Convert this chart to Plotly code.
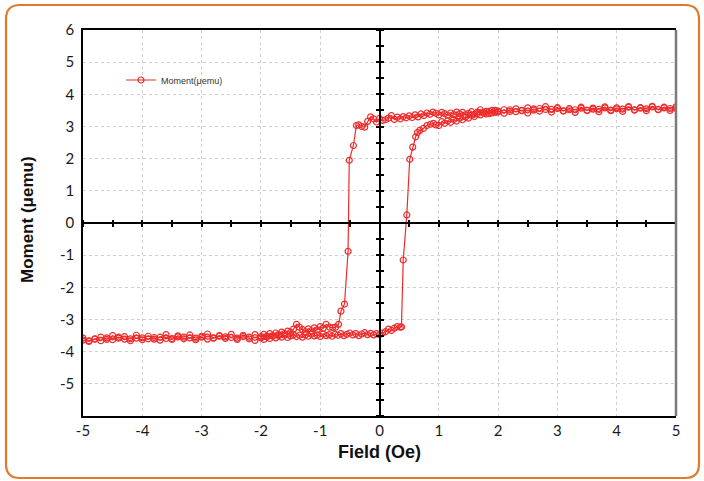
import plotly.graph_objects as go

# ---------------- data ----------------
field_down = [5.0, 4.9, 4.8, 4.7, 4.6, 4.5, 4.4, 4.3, 4.2, 4.1, 4.0, 3.9, 3.8, 3.7, 3.6, 3.5,
              3.4, 3.3, 3.2, 3.1, 3.0, 2.9, 2.8, 2.7, 2.6, 2.5, 2.4, 2.3, 2.2, 2.1, 2.0,
              1.95, 1.90, 1.85, 1.80, 1.75, 1.70, 1.65, 1.60, 1.55, 1.50, 1.45, 1.40, 1.35,
              1.30, 1.25, 1.20, 1.15, 1.10, 1.05, 1.00, 0.95, 0.90, 0.85, 0.80, 0.75, 0.70,
              0.65, 0.60, 0.55, 0.50, 0.45, 0.40, 0.35, 0.30, 0.25, 0.20, 0.15, 0.10, 0.05,
              0.00, -0.05, -0.10, -0.15, -0.20, -0.25, -0.30, -0.35, -0.39,
              -0.44, -0.51, -0.53, -0.59, -0.65, -0.69, -0.74, -0.79, -0.84, -0.90,
              -0.95, -1.00, -1.05, -1.10, -1.15, -1.20, -1.25, -1.30, -1.35, -1.40, -1.45,
              -1.50, -1.55, -1.60, -1.65, -1.70, -1.75, -1.80, -1.85, -1.90, -1.95,
              -2.0, -2.1, -2.2, -2.3, -2.4, -2.5, -2.6, -2.7, -2.8, -2.9, -3.0, -3.1, -3.2,
              -3.3, -3.4, -3.5, -3.6, -3.7, -3.8, -3.9, -4.0, -4.1, -4.2, -4.3, -4.4, -4.5,
              -4.6, -4.7, -4.8, -4.9, -5.0]
moment_down = [3.56, 3.50, 3.58, 3.53, 3.61, 3.49, 3.57, 3.52, 3.60, 3.47, 3.55, 3.51, 3.58, 3.46, 3.54, 3.50,
               3.57, 3.44, 3.52, 3.49, 3.56, 3.45, 3.53, 3.48, 3.55, 3.42, 3.50, 3.46, 3.52, 3.41, 3.48,
               3.44, 3.50, 3.40, 3.47, 3.42, 3.52, 3.45, 3.38, 3.46, 3.41, 3.36, 3.44, 3.39,
               3.45, 3.37, 3.42, 3.35, 3.40, 3.44, 3.36, 3.41, 3.45, 3.38, 3.42, 3.34, 3.39,
               3.30, 3.36, 3.28, 3.33, 3.27, 3.31, 3.24, 3.29, 3.22, 3.34, 3.26, 3.21, 3.19,
               3.25, 3.14, 3.24, 3.30, 3.16, 2.98, 3.00, 3.05, 3.03,
               2.41, 1.95, -0.88, -2.52, -2.74, -3.15, -3.24, -3.25, -3.24, -3.15,
               -3.27, -3.22, -3.32, -3.26, -3.35, -3.29, -3.38, -3.31, -3.24, -3.15, -3.30,
               -3.40, -3.36, -3.44, -3.39, -3.47, -3.42, -3.50, -3.44, -3.52, -3.46,
               -3.53, -3.47, -3.55, -3.49, -3.58, -3.46, -3.54, -3.50, -3.57, -3.45, -3.52, -3.58, -3.48,
               -3.55, -3.51, -3.59, -3.47, -3.55, -3.61, -3.52, -3.57, -3.49, -3.60, -3.53, -3.58, -3.50,
               -3.62, -3.55, -3.60, -3.66, -3.58]

field_up = [-5.0, -4.9, -4.8, -4.7, -4.6, -4.5, -4.4, -4.3, -4.2, -4.1, -4.0, -3.9, -3.8, -3.7, -3.6,
            -3.5, -3.4, -3.3, -3.2, -3.1, -3.0, -2.9, -2.8, -2.7, -2.6, -2.5, -2.4, -2.3, -2.2, -2.1, -2.0,
            -1.95, -1.90, -1.85, -1.80, -1.75, -1.70, -1.65, -1.60, -1.55, -1.50, -1.45, -1.40, -1.35,
            -1.30, -1.25, -1.20, -1.15, -1.10, -1.05, -1.00, -0.95, -0.90, -0.85, -0.80, -0.75, -0.70,
            -0.65, -0.60, -0.55, -0.50, -0.45, -0.40, -0.35, -0.30, -0.25, -0.20, -0.15, -0.10, -0.05,
            0.00, 0.05, 0.10, 0.15, 0.20, 0.25, 0.30, 0.35, 0.37,
            0.40, 0.46, 0.51, 0.56, 0.61, 0.64, 0.68, 0.74, 0.80, 0.86, 0.91, 0.95,
            1.00, 1.05, 1.10, 1.15, 1.20, 1.25, 1.30, 1.35, 1.40, 1.45, 1.50, 1.55, 1.60, 1.65,
            1.70, 1.75, 1.80, 1.85, 1.90, 1.95,
            2.0, 2.1, 2.2, 2.3, 2.4, 2.5, 2.6, 2.7, 2.8, 2.9, 3.0, 3.1, 3.2, 3.3, 3.4, 3.5,
            3.6, 3.7, 3.8, 3.9, 4.0, 4.1, 4.2, 4.3, 4.4, 4.5, 4.6, 4.7, 4.8, 4.9, 5.0]
moment_up = [-3.64, -3.68, -3.61, -3.66, -3.57, -3.63, -3.55, -3.61, -3.66, -3.58, -3.63, -3.60, -3.56, -3.64, -3.59,
             -3.62, -3.54, -3.60, -3.57, -3.63, -3.55, -3.61, -3.58, -3.52, -3.59, -3.56, -3.62, -3.53, -3.60, -3.65, -3.57,
             -3.62, -3.54, -3.59, -3.52, -3.57, -3.50, -3.55, -3.49, -3.56, -3.51, -3.47, -3.53, -3.49,
             -3.55, -3.48, -3.52, -3.46, -3.51, -3.48, -3.53, -3.45, -3.50, -3.47, -3.52, -3.46, -3.49,
             -3.44, -3.50, -3.46, -3.42, -3.48, -3.44, -3.50, -3.45, -3.41, -3.47, -3.43, -3.48, -3.44,
             -3.47, -3.42, -3.38, -3.30, -3.34, -3.27, -3.22, -3.24, -3.23,
             -1.15, 0.25, 1.98, 2.36, 2.68, 2.81, 2.88, 2.94, 3.03, 3.07, 3.10, 3.05,
             3.03, 3.15, 3.10, 3.18, 3.13, 3.22, 3.17, 3.26, 3.21, 3.30, 3.26, 3.35, 3.31, 3.40,
             3.36, 3.44, 3.39, 3.47, 3.42, 3.50,
             3.45, 3.52, 3.47, 3.55, 3.49, 3.58, 3.51, 3.56, 3.62, 3.53, 3.59, 3.48, 3.56, 3.52, 3.60, 3.50,
             3.57, 3.53, 3.61, 3.49, 3.58, 3.54, 3.62, 3.51, 3.59, 3.55, 3.63, 3.52, 3.60, 3.56, 3.61]

x_ticks = [-5, -4, -3, -2, -1, 0, 1, 2, 3, 4, 5]
y_ticks = [-5, -4, -3, -2, -1, 0, 1, 2, 3, 4, 5, 6]
series_name = "Moment(μemu)"

# ---------------- figure ----------------
W, H = 704, 481
L, R, T, B = 83, 28, 30, 65
pw, ph = W - L - R, H - T - B
RED = "#ee2b2b"

def px2paper(x, y):
    return (x - L) / pw, (H - B - y) / ph

field = field_down + [None] + field_up
moment = moment_down + [None] + moment_up

fig = go.Figure()
fig.add_trace(go.Scatter(
    x=field, y=moment, mode="lines+markers", name=series_name,
    line=dict(color=RED, width=1.2),
    marker=dict(symbol="circle-open", size=6, color=RED, line=dict(width=1.2, color=RED)),
    connectgaps=False,
))
# dummy traces to host the crossing zero axes
fig.add_trace(go.Scatter(x=[None], y=[None], xaxis="x2", yaxis="y2", showlegend=False, hoverinfo="skip"))
fig.add_trace(go.Scatter(x=[None], y=[None], xaxis="x3", yaxis="y3", showlegend=False, hoverinfo="skip"))

tickfont = dict(family="Lato, Liberation Sans, sans-serif", size=15, color="#1a1a1a")
grid = dict(showgrid=True, gridcolor="#cfcfcf", griddash="dot", gridwidth=1, zeroline=False)

fig.update_layout(
    width=W, height=H,
    margin=dict(l=L, r=R, t=T, b=B),
    paper_bgcolor="white", plot_bgcolor="white",
    showlegend=True,
    legend=dict(x=px2paper(121, 0)[0], y=px2paper(0, 80)[1], xanchor="left", yanchor="middle",
                bgcolor="rgba(0,0,0,0)", font=dict(family="Liberation Sans, Arial, sans-serif", size=9, color="#333")),
    xaxis=dict(range=[-5, 5], tickvals=x_ticks, ticktext=[str(v) for v in x_ticks], tickfont=tickfont,
               showline=True, linecolor="black", linewidth=1.5, mirror=True, ticks="", **grid),
    yaxis=dict(range=[-6, 6], tickvals=y_ticks, ticktext=[str(v) for v in y_ticks], tickfont=tickfont,
               showline=True, linecolor="black", linewidth=1.5, mirror=False, ticks="", ticklabelstandoff=4, **grid),
    xaxis2=dict(overlaying="x", anchor="free", position=0.5, side="bottom", range=[-5, 5],
                showline=True, linecolor="black", linewidth=2, ticks="outside", ticklen=3, tickwidth=1.5,
                tickcolor="black", tick0=0, dtick=0.5, showticklabels=False, showgrid=False, zeroline=False),
    yaxis2=dict(overlaying="y", anchor="free", position=0.5, side="left", range=[-6, 6],
                showline=True, linecolor="black", linewidth=2, ticks="outside", ticklen=3, tickwidth=1.5,
                tickcolor="black", tick0=0, dtick=0.5, showticklabels=False, showgrid=False, zeroline=False),
    xaxis3=dict(overlaying="x", anchor="free", position=0.5, side="top", range=[-5, 5],
                showline=False, ticks="outside", ticklen=3, tickwidth=1.5,
                tickcolor="black", tick0=0, dtick=0.5, showticklabels=False, showgrid=False, zeroline=False),
    yaxis3=dict(overlaying="y", anchor="free", position=0.5, side="right", range=[-6, 6],
                showline=False, ticks="outside", ticklen=3, tickwidth=1.5,
                tickcolor="black", tick0=0, dtick=0.5, showticklabels=False, showgrid=False, zeroline=False),
)

title_font = dict(family="Liberation Sans, Arial, sans-serif", size=18, color="#111")
tx, ty = px2paper(377, 452)
fig.add_annotation(text="<b>Field (Oe)</b>", x=0.5, y=ty, xref="paper", yref="paper",
                   showarrow=False, xanchor="center", yanchor="middle", font=title_font)
tx, ty = px2paper(27, 220)
fig.add_annotation(text="<b>Moment (μemu)</b>", x=tx, y=ty, xref="paper", yref="paper",
                   showarrow=False, textangle=-90, xanchor="center", yanchor="middle",
                   font=dict(family="Liberation Sans, Arial, sans-serif", size=17, color="#111"))

# right frame line (grey)
fig.add_shape(type="line", xref="paper", yref="paper", x0=1, x1=1, y0=0, y1=1,
              line=dict(color="#7a7a7a", width=2.5))

# rounded orange outer border
x0p, y0p, x1p, y1p, r = 6, 5, 699, 478, 14
def P(x, y):
    a, b = px2paper(x, y)
    return f"{a:.5f},{b:.5f}"
path = (f"M {P(x0p + r, y0p)} L {P(x1p - r, y0p)} Q {P(x1p, y0p)} {P(x1p, y0p + r)} "
        f"L {P(x1p, y1p - r)} Q {P(x1p, y1p)} {P(x1p - r, y1p)} "
        f"L {P(x0p + r, y1p)} Q {P(x0p, y1p)} {P(x0p, y1p - r)} "
        f"L {P(x0p, y0p + r)} Q {P(x0p, y0p)} {P(x0p + r, y0p)} Z")
fig.add_shape(type="path", xref="paper", yref="paper", path=path,
              line=dict(color="#e27a2c", width=2.2), fillcolor="rgba(0,0,0,0)", layer="above")

fig.write_html("out.html")
